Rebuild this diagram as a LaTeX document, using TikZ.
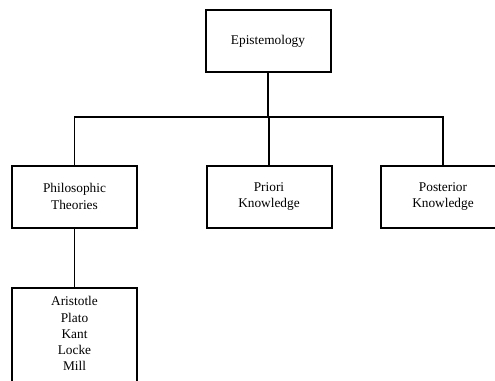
\documentclass[tikz,border=0pt]{standalone}
\usepackage{fontspec}
\setmainfont{Liberation Serif}
\begin{document}
\begin{tikzpicture}[x=0.75pt,y=-0.75pt,
  box/.style={draw=black,line width=1.5pt,fill=white,align=center,
    font=\fontsize{10}{12.2}\selectfont,minimum width=93.75pt,minimum height=46.5pt,inner sep=0pt},
  link/.style={draw=black,line width=0.8pt}]
\useasboundingbox (0,0) rectangle (495,381);
\clip (0,0) rectangle (495,381);
% tree of boxes
\node[box] (epi) at (268,41) {Epistemology};
\node[box] (phil) at (74.5,196.5) {Philosophic\\Theories};
\node[box] (priori) at (269,196.5) {Priori\\Knowledge};
\node[box] (post) at (443,196.5) {Posterior\\Knowledge};
\node[box,anchor=north,minimum height=0pt,inner ysep=6.5pt,text depth=60pt] (names) at (74.5,287)
  {Aristotle\\Plato\\Kant\\Locke\\Mill};
% branch lines
\coordinate (bar) at (268,117);
\draw[link] (epi.south) -- (bar);
\draw[link] (phil.north) |- (bar) -| (post.north);
\draw[link] (priori.north) -- (priori.north |- bar);
\draw[link] (phil.south) -- (names.north);
\end{tikzpicture}
\end{document}
